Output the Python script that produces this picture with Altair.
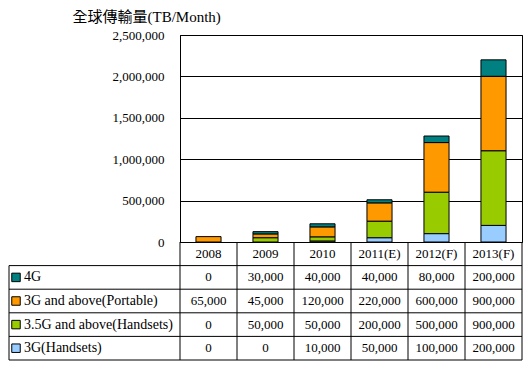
import altair as alt
import pandas as pd

years = ["2008", "2009", "2010", "2011(E)", "2012(F)", "2013(F)"]
series = ["4G", "3G and above(Portable)", "3.5G and above(Handsets)", "3G(Handsets)"]
v_4g = [0, 30000, 40000, 40000, 80000, 200000]
v_portable = [65000, 45000, 120000, 220000, 600000, 900000]
v_35g = [0, 50000, 50000, 200000, 500000, 900000]
v_3g = [0, 0, 10000, 50000, 100000, 200000]
colors = ["#008080", "#FF9900", "#99CC00", "#99CCFF"]
y_ticks = [0, 500000, 1000000, 1500000, 2000000, 2500000]
y_title = "全球傳輸量(TB/Month)"

FONT = "Liberation Serif, Noto Sans CJK TC"

values = [v_4g, v_portable, v_35g, v_3g]
rows = []
for si, (s, vals) in enumerate(zip(series, values)):
    for yi, (yr, v) in enumerate(zip(years, vals)):
        rows.append({"series": s, "year": yr, "value": v, "stack": 3 - si,
                     "ty": si + 1.5, "col": yi + 0.5, "label": f"{v:,}"})
df = pd.DataFrame(rows)
df_series = pd.DataFrame({"series": series, "ty": [i + 1.5 for i in range(len(series))]})
df_years = pd.DataFrame({"year": years, "col": [i + 0.5 for i in range(len(years))], "ty": [0.5] * len(years)})

ncol = len(years)
nrow = len(series) + 1
vl = pd.DataFrame({"x": list(range(ncol + 1)) + [-3], "y": [0] * (ncol + 1) + [1], "y2": [nrow] * (ncol + 2)})
hl = pd.DataFrame({"y": list(range(1, nrow + 1)), "x": [-3] * nrow, "x2": [ncol] * nrow})

H = 207
color = alt.Color("series:N", scale=alt.Scale(domain=series, range=colors), legend=None)
tx = alt.Scale(domain=[-3, ncol], range=[-171, 342])
ty = alt.Scale(domain=[0, nrow], range=[H, H + 118])

bars = alt.Chart(df).transform_filter("datum.value > 0").mark_bar(stroke="black", strokeWidth=1).encode(
    x=alt.X("year:N", sort=years, scale=alt.Scale(paddingInner=0.56, paddingOuter=0.28), axis=None),
    y=alt.Y("value:Q", stack="zero", scale=alt.Scale(domain=[0, 2500000], nice=False),
            axis=alt.Axis(values=y_ticks, format=",.0f", ticks=False, labelPadding=16,
                          grid=True, gridColor="black", gridOpacity=1, gridWidth=1,
                          domainColor="black", labelColor="black", labelFont=FONT, labelFontSize=13,
                          title=y_title, titleAngle=0, titleAlign="left", titleBaseline="alphabetic",
                          titleX=-108, titleY=-14, titleFont=FONT, titleFontSize=15,
                          titleFontWeight="normal", titleColor="black")),
    color=color,
    order=alt.Order("stack:Q"),
)

vrules = alt.Chart(vl).mark_rule(color="black", strokeWidth=1).encode(
    x=alt.X("x:Q", scale=tx, axis=None),
    y=alt.Y("y:Q", scale=ty, axis=None),
    y2="y2:Q",
)
hrules = alt.Chart(hl).mark_rule(color="black", strokeWidth=1).encode(
    x=alt.X("x:Q", scale=tx, axis=None),
    x2="x2:Q",
    y=alt.Y("y:Q", scale=ty, axis=None),
)
header = alt.Chart(df_years).mark_text(font=FONT, fontSize=13, color="black").encode(
    x=alt.X("col:Q", scale=tx, axis=None),
    y=alt.Y("ty:Q", scale=ty, axis=None),
    text="year:N",
)
cells = alt.Chart(df).mark_text(font=FONT, fontSize=13, color="black").encode(
    x=alt.X("col:Q", scale=tx, axis=None),
    y=alt.Y("ty:Q", scale=ty, axis=None),
    text="label:N",
)
swatch = alt.Chart(df_series).mark_square(size=72, stroke="black", strokeWidth=1, opacity=1).encode(
    x=alt.value(-164),
    y=alt.Y("ty:Q", scale=ty, axis=None),
    color=color,
)
labels = alt.Chart(df_series).mark_text(font=FONT, fontSize=14, color="black", align="left").encode(
    x=alt.value(-156),
    y=alt.Y("ty:Q", scale=ty, axis=None),
    text="series:N",
)

chart = alt.layer(bars, vrules, hrules, header, cells, swatch, labels).resolve_scale(
    x="independent", y="independent"
).properties(
    width=342, height=H,
    autosize=alt.AutoSizeParams(type="none"),
    padding={"left": 172, "top": 27, "right": 2, "bottom": 120},
).configure_view(stroke="black", strokeWidth=1)

chart.save("out.html", embed_options={"renderer": "svg", "actions": False})
